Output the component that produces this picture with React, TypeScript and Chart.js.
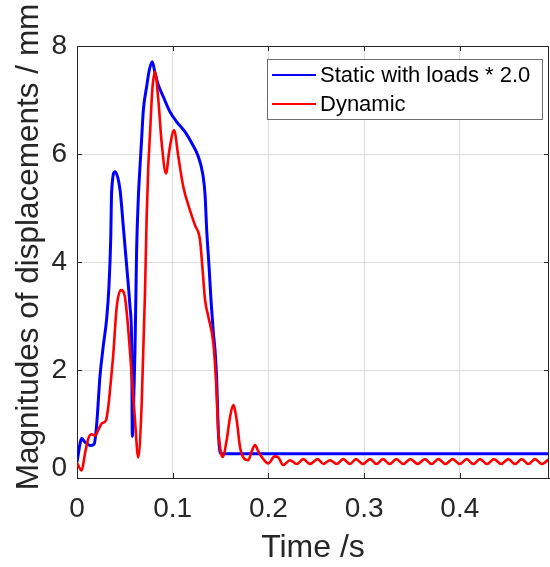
import React, { useEffect, useRef } from "react";
import { Chart, registerables } from "chart.js";

Chart.register(...registerables);

// ---- Data ----
const staticTime = [
  0, 0.005, 0.008, 0.0143, 0.018, 0.0206, 0.024, 0.0275, 0.031, 0.0334, 0.0352, 0.0362,
  0.0397, 0.045, 0.0484, 0.052, 0.0554, 0.0572, 0.0578, 0.0595, 0.0606, 0.0623, 0.064,
  0.0658, 0.0676, 0.0693, 0.0728, 0.0756, 0.0787, 0.0815, 0.085, 0.0902, 0.0972, 0.104,
  0.1129, 0.12, 0.1268, 0.1313, 0.1338, 0.1355, 0.138, 0.14, 0.1425, 0.1442, 0.146,
  0.1476, 0.1494, 0.151, 0.4932,
];
const staticValues = [
  0.3, 0.73, 0.67, 0.6, 0.63, 1.0, 1.88, 2.45, 2.95, 3.55, 4.4, 5.3,
  5.67, 5.33, 4.65, 3.91, 3.17, 2.4, 0.77, 1.6, 2.37, 4.22, 5.15,
  5.76, 6.3, 6.81, 7.25, 7.56, 7.71, 7.5, 7.28, 7.06, 6.78, 6.6,
  6.41, 6.2, 5.95, 5.64, 5.25, 4.6, 3.91, 3.3, 2.68, 2.37, 1.81,
  0.89, 0.49, 0.45, 0.45,
];

const dynamicTime = [
  0, 0.0049, 0.0084, 0.0118, 0.0153, 0.0188, 0.0223, 0.0258, 0.0303, 0.0327, 0.0345,
  0.038, 0.0415, 0.046, 0.05, 0.0536, 0.057, 0.0606, 0.064, 0.0676, 0.071, 0.0728,
  0.0745, 0.0763, 0.0787, 0.0815, 0.085, 0.0885, 0.093, 0.0965, 0.1014, 0.1059, 0.111,
  0.118, 0.1233, 0.1285, 0.131, 0.1338, 0.1372, 0.1425, 0.1452, 0.1476, 0.1501, 0.1522,
  0.1564, 0.16, 0.1633, 0.1669, 0.1703, 0.1738, 0.179, 0.1825, 0.186, 0.1895, 0.193,
  0.2, 0.2065, 0.2104, 0.2155, 0.2226, 0.2296, 0.2365, 0.2435, 0.2515, 0.2574, 0.2644,
  0.2713, 0.2782, 0.2853, 0.2915, 0.2988, 0.3062, 0.313, 0.3197, 0.3267, 0.3337, 0.341,
  0.3484, 0.356, 0.3636, 0.3705, 0.3775, 0.385, 0.3926, 0.3999, 0.4072, 0.4141, 0.4211,
  0.4284, 0.4357, 0.4432, 0.4507, 0.4577, 0.4647, 0.4716, 0.4786, 0.4858, 0.4932,
];
const dynamicValues = [
  0.28, 0.14, 0.46, 0.73, 0.81, 0.78, 0.89, 1.01, 1.07, 1.32, 1.63,
  2.31, 3.17, 3.48, 3.36, 2.74, 1.94, 1.07, 0.38, 1.38, 3.4, 4.84,
  5.76, 6.38, 7.19, 7.52, 7.0, 6.2, 5.64, 6.07, 6.44, 5.95, 5.4,
  4.96, 4.68, 4.41, 3.91, 3.3, 2.99, 2.49, 1.81, 0.89, 0.49, 0.39,
  0.7, 1.14, 1.35, 1.07, 0.58, 0.38, 0.33, 0.49, 0.61, 0.49, 0.39,
  0.27, 0.4, 0.38, 0.24, 0.33, 0.26, 0.35, 0.26, 0.35, 0.26, 0.33,
  0.26, 0.35, 0.26, 0.35, 0.26, 0.35, 0.26, 0.35, 0.26, 0.35, 0.26,
  0.35, 0.26, 0.35, 0.26, 0.35, 0.26, 0.35, 0.26, 0.35, 0.26, 0.35,
  0.26, 0.35, 0.26, 0.35, 0.26, 0.35, 0.26, 0.35, 0.26, 0.35,
];

const seriesLabels = ["Static with loads * 2.0", "Dynamic"];
const seriesColors = ["#0000ff", "#ff0000"];
const xTickValues = [0, 0.1, 0.2, 0.3, 0.4];
const yTickValues = [0, 2, 4, 6, 8];
const xMax = 0.4932;
const yMax = 8;
const xTitle = "Time /s";
const yTitle = "Magnitudes of displacements / mm";

const FONT = "'Liberation Sans', Arial, Helvetica, sans-serif";
const AXIS_COLOR = "#262626";

const framePlugin = {
  id: "matlabFrame",
  afterDraw(chart: any) {
    const { ctx, chartArea: a } = chart;
    ctx.save();
    // inward tick marks
    ctx.strokeStyle = AXIS_COLOR;
    ctx.lineWidth = 1;
    const xs = chart.scales.x;
    const ys = chart.scales.y;
    ctx.beginPath();
    xTickValues.forEach((v) => {
      const px = Math.round(xs.getPixelForValue(v)) + 0.5;
      ctx.moveTo(px, a.bottom);
      ctx.lineTo(px, a.bottom - 5);
      ctx.moveTo(px, a.top);
      ctx.lineTo(px, a.top + 5);
    });
    yTickValues.forEach((v) => {
      const py = Math.round(ys.getPixelForValue(v)) + 0.5;
      ctx.moveTo(a.left, py);
      ctx.lineTo(a.left + 5, py);
      ctx.moveTo(a.right, py);
      ctx.lineTo(a.right - 5, py);
    });
    ctx.stroke();
    // top and right border
    ctx.beginPath();
    ctx.moveTo(a.left, a.top + 0.5);
    ctx.lineTo(a.right - 0.5, a.top + 0.5);
    ctx.lineTo(a.right - 0.5, a.bottom);
    ctx.stroke();

    // origin tick label of y axis, lifted as MATLAB does
    ctx.fillStyle = AXIS_COLOR;
    ctx.font = `28px ${FONT}`;
    ctx.textAlign = "right";
    ctx.textBaseline = "middle";
    ctx.fillText(String(yTickValues[0]), a.left - 10, ys.getPixelForValue(yTickValues[0]) - 10);

    // y-axis title
    ctx.save();
    ctx.translate(29, (a.top + a.bottom) / 2 - 15);
    ctx.rotate(-Math.PI / 2);
    ctx.font = `31.5px ${FONT}`;
    ctx.textAlign = "center";
    ctx.textBaseline = "middle";
    ctx.fillStyle = AXIS_COLOR;
    ctx.fillText(yTitle, 0, 0);
    ctx.restore();

    // legend box
    const bw = 276;
    const bh = 61;
    const bx = a.right - 6 - bw;
    const by = a.top + 13;
    ctx.fillStyle = "#ffffff";
    ctx.fillRect(bx, by, bw, bh);
    ctx.strokeStyle = "#6e6e6e";
    ctx.lineWidth = 1;
    ctx.strokeRect(bx + 0.5, by + 0.5, bw - 1, bh - 1);
    ctx.font = `22px ${FONT}`;
    ctx.textAlign = "left";
    ctx.textBaseline = "middle";
    chart.data.datasets.forEach((ds: any, i: number) => {
      const cy = by + 16 + i * 29;
      ctx.strokeStyle = ds.borderColor;
      ctx.lineWidth = 2;
      ctx.beginPath();
      ctx.moveTo(bx + 5, cy);
      ctx.lineTo(bx + 49, cy);
      ctx.stroke();
      ctx.fillStyle = "#000000";
      ctx.fillText(ds.label, bx + 53, cy + 1);
    });
    ctx.restore();
  },
};

export default function App() {
  const canvasRef = useRef<HTMLCanvasElement | null>(null);

  useEffect(() => {
    if (!canvasRef.current) return;
    const chart = new Chart(canvasRef.current, {
      type: "line",
      data: {
        datasets: [
          {
            label: seriesLabels[0],
            data: staticTime.map((t, i) => ({ x: t, y: staticValues[i] })),
            borderColor: seriesColors[0],
            borderWidth: 3,
            pointRadius: 0,
            fill: false,
            cubicInterpolationMode: "monotone",
            order: 2,
          },
          {
            label: seriesLabels[1],
            data: dynamicTime.map((t, i) => ({ x: t, y: dynamicValues[i] })),
            borderColor: seriesColors[1],
            borderWidth: 2.6,
            pointRadius: 0,
            fill: false,
            cubicInterpolationMode: "monotone",
            order: 1,
          },
        ],
      },
      options: {
        animation: false,
        responsive: true,
        maintainAspectRatio: false,
        layout: { padding: { top: 46, right: 1, left: 0, bottom: 0 } },
        plugins: {
          legend: { display: false },
          tooltip: { enabled: false },
        },
        scales: {
          x: {
            type: "linear",
            min: 0,
            max: xMax,
            afterBuildTicks: (scale: any) => {
              scale.ticks = xTickValues.map((v) => ({ value: v }));
            },
            afterFit: (scale: any) => {
              scale.height = 89;
            },
            ticks: {
              includeBounds: false,
              padding: 14,
              color: AXIS_COLOR,
              font: { family: FONT, size: 28 },
              maxRotation: 0,
              callback: (v: any) => String(v),
            },
            grid: {
              color: "#dedede",
              lineWidth: 1,
              drawTicks: false,
            },
            border: { color: AXIS_COLOR, width: 1 },
            title: {
              display: true,
              text: xTitle,
              color: AXIS_COLOR,
              font: { family: FONT, size: 32, lineHeight: 1.2 },
              padding: { top: 0, bottom: 0 },
            },
          },
          y: {
            type: "linear",
            min: 0,
            max: yMax,
            afterBuildTicks: (scale: any) => {
              scale.ticks = yTickValues.map((v) => ({ value: v }));
            },
            afterFit: (scale: any) => {
              scale.width = 77;
            },
            ticks: {
              padding: 10,
              color: AXIS_COLOR,
              font: { family: FONT, size: 28 },
              callback: (v: any) => (v === yTickValues[0] ? "" : String(v)),
            },
            grid: {
              color: "#dedede",
              lineWidth: 1,
              drawTicks: false,
            },
            border: { color: AXIS_COLOR, width: 1 },
            title: { display: false },
          },
        },
      },
      plugins: [framePlugin],
    });
    return () => chart.destroy();
  }, []);

  return (
    <div style={{ position: "fixed", left: 0, top: 0, width: 550, height: 567, background: "#fff" }}>
      <canvas ref={canvasRef} />
    </div>
  );
}
